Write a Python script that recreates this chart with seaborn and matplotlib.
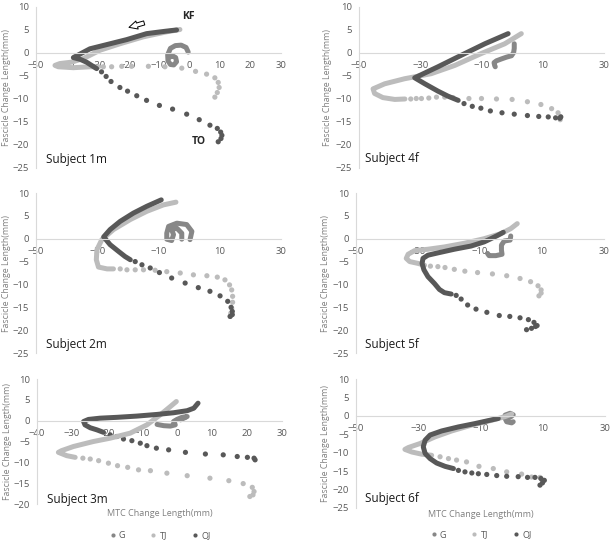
import matplotlib
matplotlib.use("Agg")
import matplotlib.pyplot as plt
import seaborn as sns

# colours of the three conditions
COL_G = "#878787"
COL_TJ = "#bcbcbc"
COL_OJ = "#585858"

# ---- Subject 1m ----
S1M_G_PATH = [(-0.3, 0.2), (-1.0, 1.2), (-2.6, 1.7), (-4.5, 1.6), (-6.1, 1.0), (-7.0, -0.4),
              (-6.9, -1.7), (-6.1, -2.5), (-5.0, -2.6), (-4.1, -1.9), (-4.4, -1.0), (-5.5, -0.6), (-6.3, -0.9)]
S1M_TJ_PATH = [(-3.0, 5.1), (-7.3, 4.6), (-15.0, 3.5), (-22.6, 2.0), (-29.1, 0.6), (-34.5, -1.2),
               (-38.4, -2.0), (-42.2, -2.3), (-43.8, -2.7), (-42.7, -3.0), (-37.8, -3.2), (-32.4, -3.0), (-29.5, -3.0)]
S1M_TJ_DOTS = [(-28.0, -3.0), (-25.3, -3.0), (-22.0, -2.9), (-18.8, -2.9), (-13.3, -2.9), (-7.9, -3.0),
               (-2.4, -3.3), (2.1, -4.0), (5.7, -4.6), (8.4, -5.4), (9.5, -6.4), (9.8, -7.5), (9.2, -8.6), (8.4, -9.6)]
S1M_OJ_PATH = [(-4.1, 5.0), (-8.0, 4.7), (-13.9, 4.2), (-20.4, 2.9), (-25.8, 2.0), (-32.4, 0.9),
               (-37.8, -1.0), (-35.5, -1.4), (-33.5, -2.0), (-30.2, -3.4)]
S1M_OJ_DOTS = [(-28.6, -4.1), (-27.1, -5.1), (-25.5, -6.2), (-22.6, -7.5), (-20.1, -8.3), (-17.1, -9.3),
               (-13.9, -10.3), (-9.7, -11.4), (-5.4, -12.2), (-0.8, -13.3), (3.3, -14.5), (6.8, -15.7),
               (9.2, -16.4), (10.3, -17.2), (10.7, -17.9), (10.4, -18.6), (9.5, -19.3)]

# ---- Subject 4f ----
S4F_G_PATH = [(0.7, 2.0), (0.7, 1.0), (0.5, 0.1), (-0.2, -0.6), (-1.8, -0.9), (-3.5, -1.3),
              (-5.1, -1.7), (-5.9, -2.1), (-5.7, -2.7), (-5.5, -3.0)]
S4F_TJ_PATH = [(3.0, 4.2), (-2.4, 2.0), (-10.0, -0.1), (-18.7, -2.7), (-26.4, -4.5), (-35.1, -5.6),
               (-41.6, -6.7), (-45.4, -7.8), (-44.9, -8.8), (-42.2, -9.7), (-38.3, -10.1), (-35.0, -10.0)]
S4F_TJ_DOTS = [(-33.1, -10.0), (-31.3, -9.9), (-29.6, -9.9), (-27.2, -9.8), (-24.7, -9.6), (-22.0, -9.6),
               (-19.3, -9.7), (-14.1, -9.9), (-10.0, -9.9), (-5.1, -10.0), (0.0, -10.1), (5.0, -10.6),
               (9.4, -11.2), (12.9, -12.1), (15.0, -13.0), (15.7, -13.8), (15.7, -14.5)]
S4F_OJ_PATH = [(-1.3, 4.2), (-8.9, 2.0), (-16.6, -0.5), (-24.2, -3.0), (-31.8, -5.4), (-28.5, -6.7),
               (-24.2, -8.3), (-20.9, -9.4), (-17.6, -10.3)]
S4F_OJ_DOTS = [(-15.7, -11.0), (-13.0, -11.6), (-10.2, -12.0), (-7.1, -12.6), (-3.3, -13.0), (0.7, -13.3),
               (5.0, -13.6), (8.7, -13.8), (11.8, -13.9), (14.2, -14.1), (15.6, -14.2), (15.9, -13.9)]

# ---- Subject 2m ----
S2M_G_PATH = [(0.3, -0.2), (0.9, 1.6), (-0.8, 3.1), (-4.0, 3.4), (-6.7, 2.7), (-7.3, 1.2), (-7.3, -0.1),
              (-5.7, -0.4), (-5.1, 0.9), (-5.7, 2.0), (-4.0, 2.3), (-2.4, 1.2), (-2.4, -0.1)]
S2M_TJ_PATH = [(-4.3, 8.0), (-8.4, 7.4), (-13.8, 6.0), (-19.2, 4.2), (-24.7, 2.0), (-28.5, -0.2),
               (-30.1, -2.4), (-30.3, -4.6), (-29.6, -6.2), (-26.8, -6.6), (-24.7, -6.6)]
S2M_TJ_DOTS = [(-22.5, -6.6), (-20.3, -6.8), (-17.6, -6.8), (-14.9, -6.8), (-11.1, -6.9), (-7.3, -7.2),
               (-2.9, -7.5), (1.4, -7.9), (5.8, -8.1), (9.2, -8.4), (11.7, -9.0), (13.2, -10.1), (13.9, -11.2),
               (14.2, -12.6), (14.2, -13.9), (13.9, -15.2), (13.6, -16.3), (13.4, -17.0)]
S2M_OJ_PATH = [(-9.1, 8.5), (-13.8, 7.1), (-18.2, 5.6), (-22.5, 3.8), (-25.8, 2.0), (-27.9, 0.4),
               (-25.8, -1.3), (-23.0, -2.8), (-20.9, -3.9), (-19.2, -4.6)]
S2M_OJ_DOTS = [(-17.6, -5.0), (-15.4, -5.7), (-12.7, -6.4), (-9.7, -7.4), (-5.7, -8.6), (-1.3, -9.7),
               (3.0, -10.7), (6.8, -11.5), (10.1, -12.5), (12.6, -13.7), (13.7, -15.0), (14.1, -15.9),
               (14.1, -16.6), (13.4, -17.0)]

# ---- Subject 5f ----
S5F_G_PATH = [(-0.1, 0.6), (-0.3, -0.3), (-2.2, -0.5), (-3.1, -1.4), (-3.1, -2.5), (-2.9, -3.4),
              (-4.9, -3.7), (-7.1, -3.7), (-7.6, -3.2)]
S5F_TJ_PATH = [(2.0, 3.3), (-0.1, 2.2), (-3.3, 1.1), (-8.7, 0.0), (-15.1, -1.0), (-21.5, -1.8),
               (-26.8, -2.3), (-31.1, -2.6), (-33.2, -3.4), (-33.8, -4.3), (-32.7, -5.0), (-30.0, -5.4), (-27.9, -5.8)]
S5F_TJ_DOTS = [(-26.0, -6.0), (-23.6, -6.1), (-21.3, -6.3), (-18.3, -6.7), (-14.9, -7.1), (-10.8, -7.4),
               (-6.0, -7.7), (-1.4, -8.1), (2.9, -8.7), (6.3, -9.4), (8.7, -10.3), (9.7, -11.2), (9.7, -11.9), (9.0, -12.5)]
S5F_OJ_PATH = [(-2.5, 1.4), (-4.4, 0.7), (-6.5, 0.0), (-8.7, -0.7), (-12.9, -1.6), (-18.3, -2.3),
               (-23.6, -3.1), (-26.8, -3.6), (-28.4, -4.3), (-28.7, -5.4), (-28.1, -6.8), (-26.8, -8.3),
               (-24.7, -9.8), (-23.1, -11.1), (-21.5, -11.8), (-19.3, -12.1)]
S5F_OJ_DOTS = [(-17.7, -12.4), (-16.1, -13.2), (-14.0, -14.5), (-11.3, -15.4), (-7.8, -16.1), (-3.8, -16.8),
               (-0.4, -17.0), (2.9, -17.3), (5.6, -17.7), (7.4, -18.3), (8.4, -19.0), (7.9, -19.2),
               (6.6, -19.6), (5.0, -19.9)]

# ---- Subject 3m ----
S3M_G_PATH = [(-5.7, -0.9), (-3.8, -1.2), (-1.9, -1.3), (-0.5, -1.0), (-1.0, -0.2), (0.0, 0.3),
              (1.4, 0.8), (2.9, 1.0), (1.0, 0.2)]
S3M_TJ_PATH = [(-0.2, 4.6), (-1.9, 3.4), (-4.8, 1.4), (-8.6, -1.0), (-13.4, -3.0), (-19.1, -4.2),
               (-23.9, -5.0), (-29.6, -6.2), (-33.0, -7.2), (-33.9, -7.6), (-31.5, -8.4), (-29.1, -8.8)]
S3M_TJ_DOTS = [(-26.9, -9.0), (-24.8, -9.2), (-22.4, -9.6), (-19.6, -10.2), (-17.0, -10.8), (-14.1, -11.2),
               (-11.0, -11.8), (-7.6, -12.0), (-2.9, -12.6), (2.9, -13.2), (9.4, -13.8), (14.8, -14.4),
               (18.9, -15.1), (21.5, -16.0), (22.0, -17.0), (21.7, -17.8), (20.8, -18.2)]
S3M_OJ_PATH = [(6.0, 4.2), (4.8, 3.0), (2.9, 2.4), (-1.0, 1.9), (-5.7, 1.5), (-11.5, 1.1), (-17.2, 0.8),
               (-22.0, 0.6), (-25.3, 0.3), (-26.7, -0.2), (-26.3, -1.0), (-24.8, -1.7), (-22.9, -2.2), (-21.0, -2.8)]
S3M_OJ_DOTS = [(-19.1, -3.4), (-17.2, -3.8), (-15.3, -4.4), (-12.9, -4.8), (-10.5, -5.4), (-8.6, -6.0),
               (-5.9, -6.6), (-2.4, -7.0), (2.4, -7.6), (8.1, -8.0), (13.2, -8.2), (17.2, -8.6), (20.1, -8.8),
               (22.0, -9.0), (22.3, -9.4)]

# ---- Subject 6f ----
S6F_G_PATH = [(-2.1, 0.2), (-0.5, 0.7), (0.5, 0.3), (-0.5, -0.4), (-2.1, -0.7), (-1.6, -1.6),
              (0.0, -1.9), (0.5, -1.6)]
S6F_TJ_PATH = [(0.0, 0.5), (-2.1, -0.2), (-6.4, -1.2), (-12.8, -2.5), (-19.3, -4.1), (-24.6, -5.7),
               (-29.4, -7.5), (-33.2, -8.6), (-34.3, -9.1), (-32.1, -9.8), (-28.9, -10.4), (-25.7, -10.7)]
S6F_TJ_DOTS = [(-23.0, -11.1), (-20.3, -11.6), (-17.7, -12.0), (-14.5, -12.5), (-10.5, -13.7), (-5.9, -14.3),
               (-1.6, -15.2), (3.2, -15.8), (6.4, -16.6), (9.1, -16.7), (9.8, -17.5)]
S6F_OJ_PATH = [(-4.3, -0.7), (-7.0, -1.2), (-11.8, -2.1), (-17.1, -3.0), (-22.5, -4.1), (-26.2, -5.2),
               (-27.8, -6.6), (-28.4, -8.4), (-27.8, -10.2), (-26.2, -11.6), (-24.1, -12.8), (-21.4, -13.7), (-18.7, -14.3)]
S6F_OJ_DOTS = [(-17.1, -14.8), (-15.0, -15.2), (-12.8, -15.5), (-10.7, -15.7), (-8.0, -15.9), (-4.8, -16.2),
               (-1.6, -16.4), (2.1, -16.5), (5.1, -16.7), (7.5, -16.7), (9.4, -17.0), (10.5, -17.5),
               (9.9, -18.2), (9.1, -18.8)]

SUBJECTS = ["Subject 1m", "Subject 4f", "Subject 2m", "Subject 5f", "Subject 3m", "Subject 6f"]
XTICKS_10 = [-50, -40, -30, -20, -10, 0, 10, 20, 30]
XTICKS_20 = [-50, -30, -10, 10, 30]
XTICKS_3M = [-40, -30, -20, -10, 0, 10, 20, 30]

sns.set_style("white")
plt.rcParams["font.family"] = ["Open Sans", "DejaVu Sans"]

fig = plt.figure(figsize=(6.13, 5.44), dpi=100)

panels = [
    # rect, data, xlim, xticks, ylim, label pos, ylabel x, bottom label/legend offsets
    ([0.0587, 0.6912, 0.3997, 0.2960], (S1M_G_PATH, S1M_TJ_PATH, S1M_TJ_DOTS, S1M_OJ_PATH, S1M_OJ_DOTS),
     (-50, 30), XTICKS_10, (-25, 10), (0.04, 0.05), -0.104, None),
    ([0.5856, 0.6912, 0.3997, 0.2960], (S4F_G_PATH, S4F_TJ_PATH, S4F_TJ_DOTS, S4F_OJ_PATH, S4F_OJ_DOTS),
     (-50, 30), XTICKS_20, (-25, 10), (0.025, 0.056), -0.11, None),
    ([0.0587, 0.3511, 0.3997, 0.2941], (S2M_G_PATH, S2M_TJ_PATH, S2M_TJ_DOTS, S2M_OJ_PATH, S2M_OJ_DOTS),
     (-50, 30), XTICKS_20, (-25, 10), (0.04, 0.056), -0.104, None),
    ([0.5808, 0.3511, 0.4046, 0.2941], (S5F_G_PATH, S5F_TJ_PATH, S5F_TJ_DOTS, S5F_OJ_PATH, S5F_OJ_DOTS),
     (-50, 30), XTICKS_20, (-25, 10), (0.036, 0.056), -0.104, None),
    ([0.0604, 0.0735, 0.3997, 0.2298], (S3M_G_PATH, S3M_TJ_PATH, S3M_TJ_DOTS, S3M_OJ_PATH, S3M_OJ_DOTS),
     (-40, 30), XTICKS_3M, (-20, 10), (0.04, 0.04), -0.104, (-0.072, -0.25)),
    ([0.5808, 0.0662, 0.4062, 0.2371], (S6F_G_PATH, S6F_TJ_PATH, S6F_TJ_DOTS, S6F_OJ_PATH, S6F_OJ_DOTS),
     (-50, 30), XTICKS_20, (-25, 10), (0.036, 0.07), -0.104, (-0.047, -0.21)),
]


def draw_path(ax, pts, color):
    xs = [p[0] for p in pts]
    ys = [p[1] for p in pts]
    sns.lineplot(x=xs, y=ys, sort=False, estimator=None, color=color, linewidth=3.6,
                 solid_capstyle="round", solid_joinstyle="round", ax=ax)


def draw_dots(ax, pts, color):
    xs = [p[0] for p in pts]
    ys = [p[1] for p in pts]
    sns.scatterplot(x=xs, y=ys, color=color, s=14, edgecolor="none", ax=ax)


for i, (rect, data, xlim, xticks, ylim, lab_pos, ylab_x, bottom) in enumerate(panels):
    ax = fig.add_axes(rect)
    g_path, tj_path, tj_dots, oj_path, oj_dots = data
    draw_path(ax, g_path, COL_G)
    draw_path(ax, tj_path, COL_TJ)
    draw_dots(ax, tj_dots, COL_TJ)
    draw_path(ax, oj_path, COL_OJ)
    draw_dots(ax, oj_dots, COL_OJ)

    ax.set_xlim(*xlim)
    ax.set_ylim(*ylim)
    ax.set_xticks(xticks)
    ax.set_yticks(range(ylim[0], ylim[1] + 1, 5))
    ax.set_axisbelow(True)
    for side in ["top", "right"]:
        ax.spines[side].set_visible(False)
    ax.spines["bottom"].set_position(("data", 0))
    ax.spines["bottom"].set_color("#d9d9d9")
    ax.spines["left"].set_color("#d9d9d9")
    ax.tick_params(length=0, labelsize=6.8, labelcolor="#595959")
    ax.tick_params(axis="x", pad=6)
    ax.tick_params(axis="y", pad=5)
    ax.set_ylabel("Fascicle Change Length(mm)", fontsize=6.3, color="#7f7f7f")
    ax.yaxis.set_label_coords(ylab_x, 0.5)
    ax.text(lab_pos[0], lab_pos[1], SUBJECTS[i], transform=ax.transAxes, fontsize=8.5,
            color="#1a1a1a", va="center", ha="left")

    if i == 0:
        ax.text(-0.4, 8.0, "KF", fontsize=7.5, fontweight="bold", ha="center", va="center")
        ax.text(3.3, -19.3, "TO", fontsize=7.5, fontweight="bold", ha="center", va="center")
        ax.annotate("", xy=(-20.5, 5.4), xytext=(-13.8, 6.7),
                    arrowprops=dict(arrowstyle="simple,head_length=0.6,head_width=0.6,tail_width=0.3",
                                    facecolor="white", edgecolor="black", linewidth=0.7))

    if bottom is not None:
        ax.text(0.5, bottom[0], "MTC Change Length(mm)", transform=ax.transAxes,
                fontsize=6.5, color="#7f7f7f", ha="center", va="center")
        handles = [plt.Line2D([], [], marker="o", linestyle="none", markersize=3,
                              markeredgewidth=0, color=c) for c in (COL_G, COL_TJ, COL_OJ)]
        ax.legend(handles, ["G", "TJ", "OJ"], loc="center", bbox_to_anchor=(0.5, bottom[1]),
                  ncol=3, frameon=False, fontsize=6.5, labelcolor="#595959",
                  handletextpad=0.2, columnspacing=2.6, handlelength=1.0)

fig.savefig("out.png", dpi=100)
